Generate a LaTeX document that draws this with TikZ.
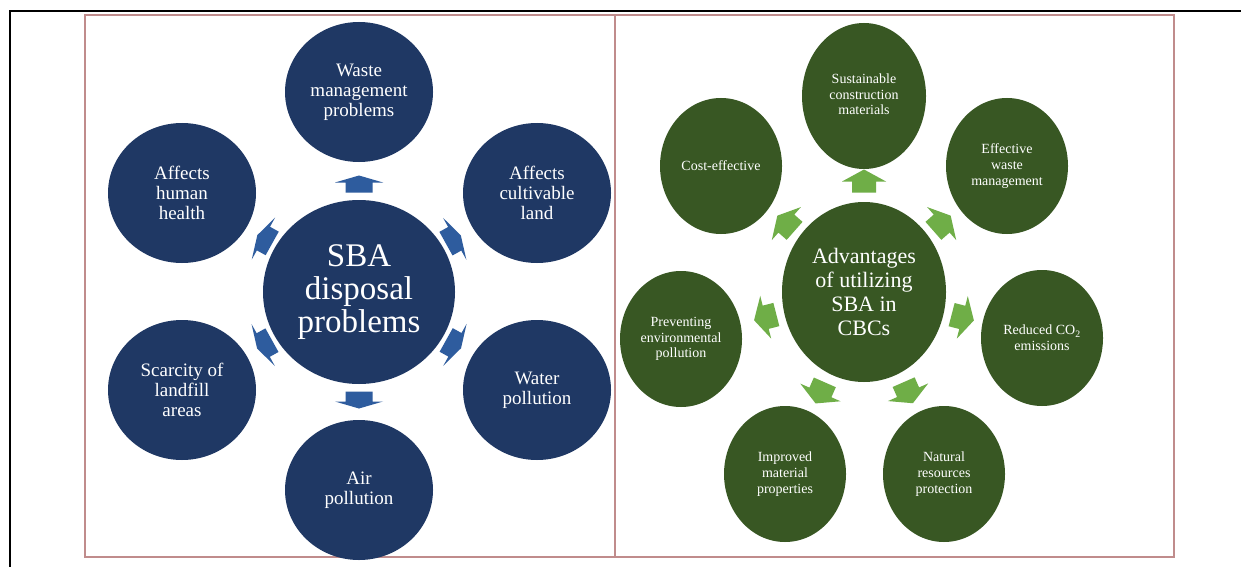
\documentclass[tikz,border=0pt]{standalone}
\usepackage{fontspec}
\setmainfont{Liberation Serif}
\usetikzlibrary{shapes.geometric,calc}
\definecolor{navy}{HTML}{1F3864}
\definecolor{blarrow}{HTML}{2E5C9E}
\definecolor{dgreen}{HTML}{385723}
\definecolor{lgreen}{HTML}{6FAE47}
\definecolor{framered}{HTML}{C08C8C}
\tikzset{
  pics/blockarrow/.style n args={4}{code={%
    \fill (-#1/2,-#4/2) -- ({#1/2-#2},-#4/2) -- ({#1/2-#2},-#3/2) -- (#1/2,0)
      -- ({#1/2-#2},#3/2) -- ({#1/2-#2},#4/2) -- (-#1/2,#4/2) -- cycle;}},
  bub/.style={ellipse, inner sep=0pt, text=white, align=center},
  bluebub/.style={bub, fill=navy, minimum width=148pt, minimum height=140pt,
    font=\fontsize{19}{20}\selectfont},
  bluecenter/.style={bub, fill=navy, minimum width=192pt, minimum height=184pt,
    font=\fontsize{33}{33}\selectfont},
  greenbub/.style={bub, fill=dgreen, minimum width=122pt, minimum height=136pt,
    font=\fontsize{14}{15.7}\selectfont},
  greencenter/.style={bub, fill=dgreen, minimum width=164pt, minimum height=180pt,
    font=\fontsize{22}{24}\selectfont},
  bluearrow/.style={fill=blarrow},
  greenarrow/.style={fill=lgreen},
  outerframe/.style={line width=2pt, black},
  panelframe/.style={line width=1.3pt, framered}
}
\begin{document}
\begin{tikzpicture}[x=1pt,y=-1pt]
\useasboundingbox (0,0) rectangle (1241,567);
\fill[white] (0,0) rectangle (1241,567);
% frames
\draw[outerframe] (10,567) -- (10,11) -- (1241,11);
\draw[panelframe] (85,15) rectangle (1174,557);
\draw[panelframe] (615,15) -- (615,557);

% ---------- left panel ----------
\node[bluecenter] (C) at (359,292) {SBA\\disposal\\problems};
\node[bluebub] (T)  at (359,92)  {Waste\\management\\problems};
\node[bluebub] (UR) at (537,193) {Affects\\cultivable\\land};
\node[bluebub] (LR) at (537,390) {Water\\pollution};
\node[bluebub] (B)  at (359,490) {Air\\pollution};
\node[bluebub] (LL) at (182,390) {Scarcity of\\landfill\\areas};
\node[bluebub] (UL) at (182,193) {Affects\\human\\health};

\pic[bluearrow, rotate=90]     (aT)  at ($(C)!108pt!(T)$)  {blockarrow={17}{7}{48}{27}};
\pic[bluearrow, rotate=29.1]   (aUR) at ($(C)!108pt!(UR)$) {blockarrow={17}{7}{48}{27}};
\pic[bluearrow, rotate=-29.1]  (aLR) at ($(C)!108pt!(LR)$) {blockarrow={17}{7}{48}{27}};
\pic[bluearrow, rotate=-90]    (aB)  at ($(C)!108pt!(B)$)  {blockarrow={17}{7}{48}{27}};
\pic[bluearrow, rotate=-150.9] (aLL) at ($(C)!108pt!(LL)$) {blockarrow={17}{7}{48}{27}};
\pic[bluearrow, rotate=150.9]  (aUL) at ($(C)!108pt!(UL)$) {blockarrow={17}{7}{48}{27}};

% ---------- right panel ----------
\node[greencenter] (G) at (864,292) {Advantages\\of utilizing\\SBA in\\CBCs};
\node[greenbub, minimum width=124pt, minimum height=146pt] (GT) at (864,96)
  {\raisebox{5pt}{\begin{tabular}{@{}c@{}}Sustainable\\construction\\materials\end{tabular}}};
\node[greenbub] (GE)  at (1007,166) {Effective\\waste\\management};
\node[greenbub] (GR)  at (1042,338) {Reduced CO\textsubscript{2}\\emissions};
\node[greenbub] (GN)  at (944,474)  {Natural\\resources\\protection};
\node[greenbub] (GI)  at (785,474)  {Improved\\material\\properties};
\node[greenbub] (GP)  at (681,339)  {Preventing\\environmental\\pollution};
\node[greenbub] (GC)  at (721,166)  {Cost-effective};

\pic[greenarrow, rotate=90]     (gT) at ($(G)!111pt!(GT)$) {blockarrow={23}{12}{44}{24}};
\pic[greenarrow, rotate=41.4]   (gE) at ($(G)!104pt!(GE)$) {blockarrow={23}{12}{44}{24}};
\pic[greenarrow, rotate=-14.5]  (gR) at ($(G)!102pt!(GR)$) {blockarrow={23}{12}{44}{24}};
\pic[greenarrow, rotate=-66.3]  (gN) at ($(G)!110pt!(GN)$) {blockarrow={23}{12}{44}{24}};
\pic[greenarrow, rotate=-113.7] (gI) at ($(G)!110pt!(GI)$) {blockarrow={23}{12}{44}{24}};
\pic[greenarrow, rotate=-165.6] (gP) at ($(G)!102pt!(GP)$) {blockarrow={23}{12}{44}{24}};
\pic[greenarrow, rotate=138.6]  (gC) at ($(G)!104pt!(GC)$) {blockarrow={23}{12}{44}{24}};
\end{tikzpicture}
\end{document}
